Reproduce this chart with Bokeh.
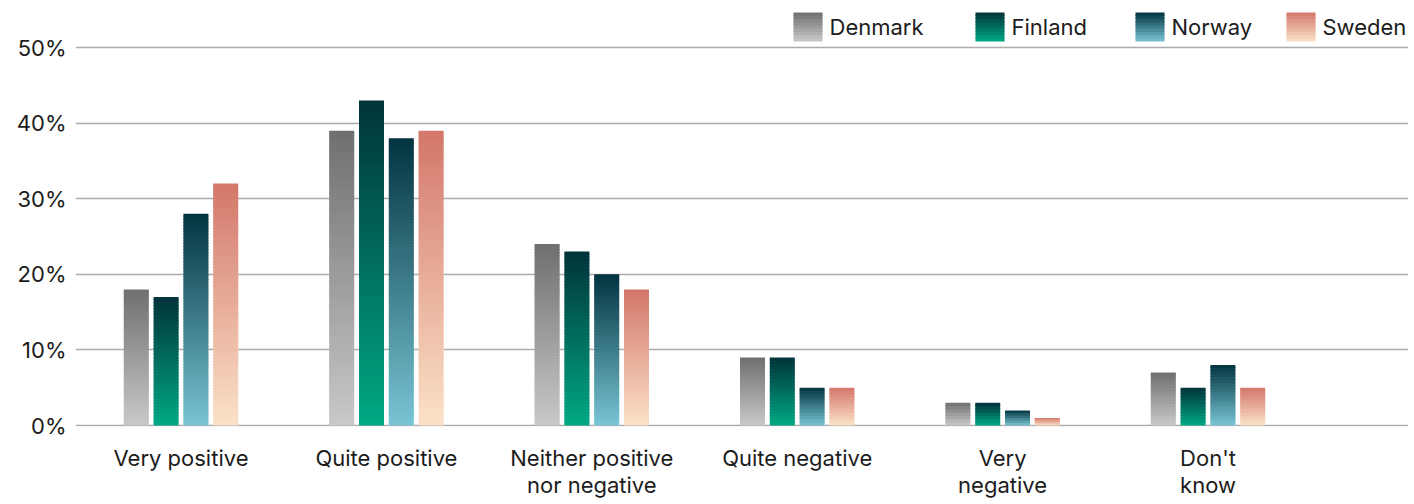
import numpy as np
from bokeh.plotting import figure
from bokeh.models import ColumnDataSource, Range1d, FixedTicker
from bokeh.core.properties import value
from bokeh.embed import file_html
from bokeh.resources import INLINE

# ---------------- data ----------------
categories = ["Very positive", "Quite positive", "Neither positive\nnor negative",
              "Quite negative", "Very\nnegative", "Don't\nknow"]
countries = ["Denmark", "Finland", "Norway", "Sweden"]
denmark = [18, 39, 24, 9, 3, 7]
finland = [17, 43, 23, 9, 3, 5]
norway = [28, 38, 20, 5, 2, 8]
sweden = [32, 39, 18, 5, 1, 5]
series = [denmark, finland, norway, sweden]
y_ticks = [0, 10, 20, 30, 40, 50]
y_tick_labels = ["0%", "10%", "20%", "30%", "40%", "50%"]

# ---------------- style ----------------
top_colors = ["#6f6f71", "#01333a", "#02343f", "#d3776a"]
bottom_colors = ["#c9c9cb", "#00a984", "#79c5d5", "#fbe2c8"]
FONT = "Inter"
FONT_SIZE = "22px"
TEXT_COLOR = "#1c1c1c"
GRID_COLOR = "#acacac"

PX_PER_CAT = 205.4          # pixels per category slot
CAT0_PX = 180.5             # page x of first category centre
FRAME_LEFT_PX, FRAME_RIGHT_PX = 75.0, 1408.0
ZERO_PY, PX_PER_UNIT = 425.0, 7.56
FRAME_TOP_PY, FRAME_BOTTOM_PY = 0.0, 426.0

x_start = (FRAME_LEFT_PX - CAT0_PX) / PX_PER_CAT
x_end = (FRAME_RIGHT_PX - CAT0_PX) / PX_PER_CAT
y_start = (ZERO_PY - FRAME_BOTTOM_PY) / PX_PER_UNIT
y_end = (ZERO_PY - FRAME_TOP_PY) / PX_PER_UNIT


def px_to_x(px):
    return (px - CAT0_PX) / PX_PER_CAT


def py_to_y(py):
    return (ZERO_PY - py) / PX_PER_UNIT


def hex_rgb(h):
    h = h.lstrip("#")
    return np.array([int(h[i:i + 2], 16) for i in (0, 2, 4)], dtype=float)


def mix(c_bot, c_top, t):
    a, b = hex_rgb(c_bot), hex_rgb(c_top)
    c = a + (b - a) * t
    return "#%02x%02x%02x" % tuple(int(round(v)) for v in c)


def gradient_slices(left, right, bottom, top, c_top, c_bot, store):
    h = top - bottom
    if h <= 0:
        return
    n = max(6, int(h * PX_PER_UNIT / 3))
    for j in range(n):
        b = bottom + h * j / n
        t = bottom + h * (j + 1) / n
        if j < n - 1:
            t = min(top, t + 0.15)
        store["left"].append(left)
        store["right"].append(right)
        store["bottom"].append(b)
        store["top"].append(t)
        store["color"].append(mix(c_bot, c_top, (j + 0.5) / n))


p = figure(frame_width=int(FRAME_RIGHT_PX - FRAME_LEFT_PX),
           frame_height=int(FRAME_BOTTOM_PY - FRAME_TOP_PY),
           output_backend="svg", toolbar_location=None,
           x_range=Range1d(x_start, x_end), y_range=Range1d(y_start, y_end),
           min_border_left=int(FRAME_LEFT_PX), min_border_right=0,
           min_border_top=0, min_border_bottom=0,
           background_fill_color="white", border_fill_color="white")
p.outline_line_color = None

# ---------------- bars ----------------
bar_w = 25.0 / PX_PER_CAT
pitch = 29.8 / PX_PER_CAT
offsets = [-1.5, -0.5, 0.5, 1.5]
bars = {"left": [], "right": [], "bottom": [], "top": [], "color": []}
for k, vals in enumerate(series):
    for i, v in enumerate(vals):
        cx = i + offsets[k] * pitch
        gradient_slices(cx - bar_w / 2, cx + bar_w / 2, 0, v,
                        top_colors[k], bottom_colors[k], bars)

# ---------------- grid ----------------
p.xgrid.visible = False
p.ygrid.grid_line_color = GRID_COLOR
p.ygrid.grid_line_width = 1.3
p.ygrid.ticker = FixedTicker(ticks=y_ticks)

p.quad(left="left", right="right", bottom="bottom", top="top",
       fill_color="color", line_color=None, source=ColumnDataSource(bars))

# ---------------- legend (drawn manually with gradient keys) ----------------
legend_key_px = [793, 975, 1135, 1286]
key_size_px = 29.0
key_top_py, key_bottom_py = 12.0, 41.0
leg = {"left": [], "right": [], "bottom": [], "top": [], "color": []}
for k in range(4):
    l = px_to_x(legend_key_px[k])
    r = px_to_x(legend_key_px[k] + key_size_px)
    gradient_slices(l, r, py_to_y(key_bottom_py), py_to_y(key_top_py),
                    top_colors[k], bottom_colors[k], leg)
p.quad(left="left", right="right", bottom="bottom", top="top",
       fill_color="color", line_color=None, source=ColumnDataSource(leg))

label_src = ColumnDataSource(dict(
    x=[px_to_x(px + key_size_px + 7) for px in legend_key_px],
    y=[py_to_y(26.0)] * 4,
    text=countries))
p.text(x="x", y="y", text="text", source=label_src,
       text_font=value(FONT), text_font_size=value(FONT_SIZE),
       text_color=TEXT_COLOR, text_align="left", text_baseline="middle")

# ---------------- axes ----------------
xa = p.xaxis[0]
xa.ticker = FixedTicker(ticks=list(range(len(categories))))
xa.major_label_overrides = {i: c for i, c in enumerate(categories)}
xa.axis_line_color = None
xa.major_tick_line_color = None
xa.minor_tick_line_color = None
xa.major_tick_out = 0
xa.major_tick_in = 0
xa.major_label_standoff = 18
xa.major_label_text_font = FONT
xa.major_label_text_font_size = FONT_SIZE
xa.major_label_text_color = TEXT_COLOR
xa.major_label_text_line_height = 1.04

ya = p.yaxis[0]
ya.ticker = FixedTicker(ticks=y_ticks)
ya.major_label_overrides = {t: l for t, l in zip(y_ticks, y_tick_labels)}
ya.axis_line_color = None
ya.major_tick_line_color = None
ya.minor_tick_line_color = None
ya.major_tick_out = 0
ya.major_tick_in = 0
ya.major_label_standoff = 9
ya.major_label_text_font = FONT
ya.major_label_text_font_size = FONT_SIZE
ya.major_label_text_color = TEXT_COLOR

open("out.html", "w").write(file_html(p, INLINE))
